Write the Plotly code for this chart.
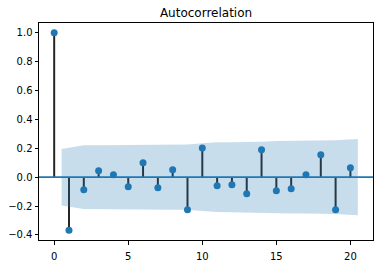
import plotly.graph_objects as go

lags = list(range(21))
acf_vals = [1.0, -0.367, -0.087, 0.044, 0.017, -0.067, 0.100, -0.073, 0.051, -0.226,
            0.203, -0.060, -0.053, -0.115, 0.190, -0.094, -0.080, 0.017, 0.155, -0.226, 0.065]
band_x = [0.5, 2, 3, 4, 5, 6, 7, 8, 9, 10, 11, 12, 13, 14, 15, 16, 17, 18, 19, 20.5]
band_half = [0.196, 0.221, 0.222, 0.2225, 0.2225, 0.223, 0.225, 0.226, 0.226, 0.235,
             0.2415, 0.242, 0.2425, 0.245, 0.250, 0.2515, 0.2525, 0.2525, 0.256, 0.264]
x_ticks = [0, 5, 10, 15, 20]
y_ticks = [-0.4, -0.2, 0.0, 0.2, 0.4, 0.6, 0.8, 1.0]

C0 = "#1f77b4"

stem_x, stem_y = [], []
for k, r in zip(lags, acf_vals):
    stem_x += [k, k, None]
    stem_y += [0, r, None]

fig = go.Figure()
fig.add_trace(go.Scatter(x=stem_x, y=stem_y, mode="lines",
                         line=dict(color="#262626", width=2), hoverinfo="skip"))
fig.add_trace(go.Scatter(x=lags, y=acf_vals, mode="markers",
                         marker=dict(color=C0, size=7, line=dict(width=0))))
fig.add_shape(type="line", xref="paper", yref="y", x0=0, x1=1, y0=0, y1=0,
              line=dict(color=C0, width=1.6))
poly_x = band_x + band_x[::-1]
poly_y = band_half + [-v for v in band_half[::-1]]
fig.add_trace(go.Scatter(x=poly_x, y=poly_y, mode="lines", fill="toself",
                         fillcolor="rgba(31,119,180,0.25)", line=dict(width=0),
                         hoverinfo="skip"))

axis_common = dict(showline=True, linecolor="black", linewidth=1, mirror=True,
                   ticks="outside", ticklen=3.5, tickwidth=0.8, tickcolor="black",
                   showgrid=False, zeroline=False, automargin=False,
                   tickfont=dict(family="DejaVu Sans", size=10, color="black"))
fig.update_xaxes(range=[-1.025, 21.525], tickvals=x_ticks, ticklabelstandoff=3,
                 **axis_common)
fig.update_yaxes(range=[-0.4354, 1.0684], tickvals=y_ticks, tickformat=".1f", **axis_common)

fig.update_layout(
    width=380, height=264,
    margin=dict(l=39, r=7, t=23, b=24),
    plot_bgcolor="white", paper_bgcolor="white",
    showlegend=False,
    title=dict(text="Autocorrelation", x=(39 + 373) / 2 / 380, xanchor="center",
               y=1 - 13 / 264, yanchor="middle",
               font=dict(family="DejaVu Sans", size=12, color="black")),
)

fig.write_html("out.html")
